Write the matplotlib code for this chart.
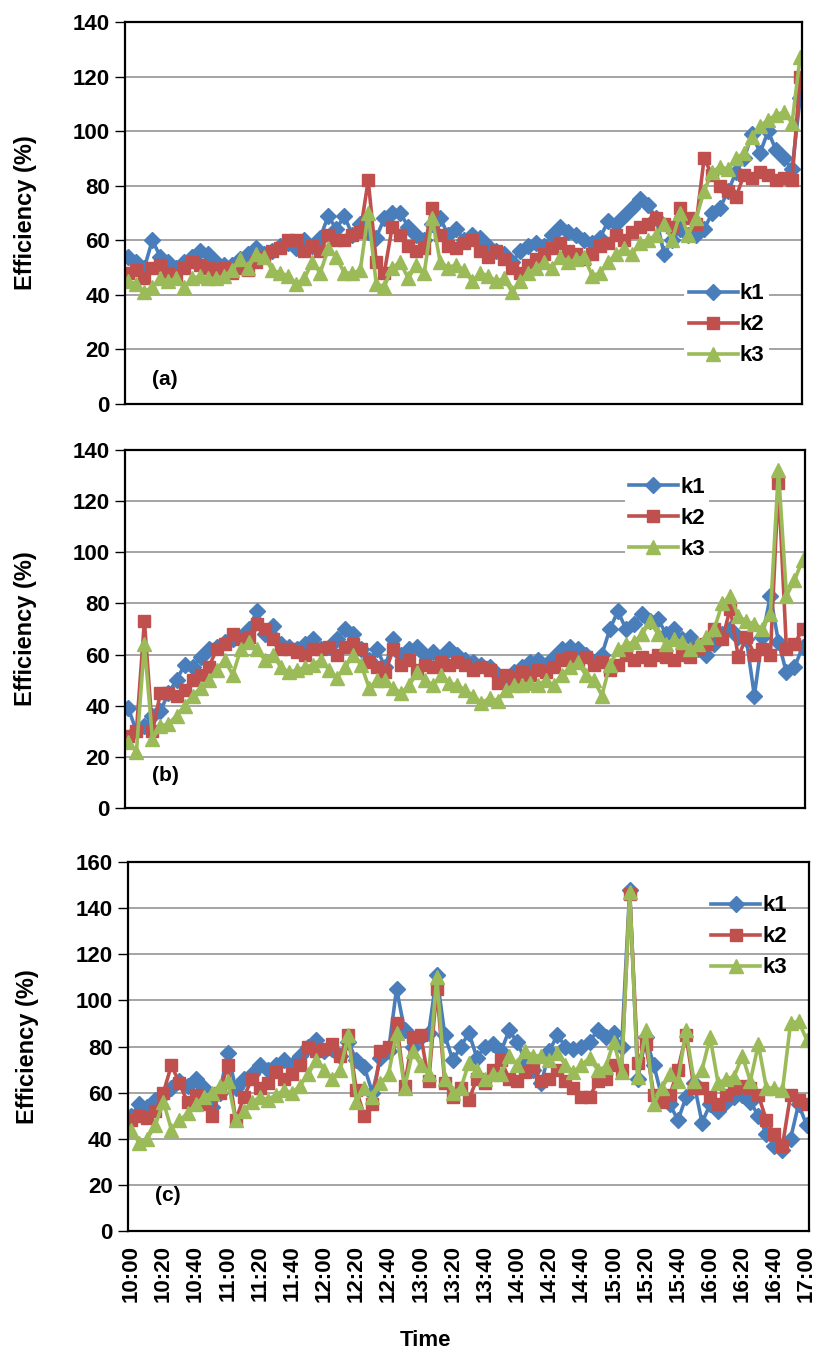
import matplotlib
matplotlib.use('Agg')
import matplotlib.pyplot as plt
import numpy as np

plt.rcParams['font.family'] = ['Liberation Sans', 'DejaVu Sans']
plt.rcParams['font.weight'] = 'bold'

# time axis: 10:00 .. 17:00 every 5 minutes
times = ['%d:%02d' % (10 + m // 60, m % 60) for m in range(0, 421, 5)]
tick_labels = times[::4]

# panel (a)
a_k1 = [54, 52, 50, 60, 54, 52, 50, 52, 54, 56, 55, 52, 51, 51, 53, 55, 57, 55, 56, 58,
        59, 57, 60, 58, 61, 69, 64, 69, 62, 66, 63, 61, 68, 70, 70, 65, 62, 60, 66, 68,
        62, 64, 60, 62, 61, 58, 56, 55, 52, 56, 58, 59, 58, 62, 65, 63, 62, 60, 59, 61,
        67, 66, 69, 72, 75, 73, 68, 55, 60, 64, 62, 62, 64, 70, 72, 78, 85, 90, 99, 92,
        100, 93, 90, 86, 112]
a_k2 = [48, 49, 46, 50, 51, 48, 47, 50, 52, 51, 50, 49, 50, 48, 50, 49, 52, 54, 56, 57,
        60, 60, 56, 58, 56, 62, 60, 60, 62, 63, 82, 52, 48, 65, 62, 58, 56, 57, 72, 62,
        58, 57, 59, 60, 56, 54, 56, 53, 50, 48, 51, 53, 55, 57, 59, 56, 55, 53, 55, 58,
        59, 62, 60, 63, 65, 66, 68, 66, 65, 72, 68, 66, 90, 84, 80, 78, 76, 84, 83, 85,
        84, 82, 83, 82, 120]
a_k3 = [45, 44, 41, 43, 46, 45, 46, 43, 46, 47, 46, 46, 47, 49, 53, 50, 55, 54, 49, 48,
        47, 44, 46, 52, 48, 57, 54, 48, 48, 49, 70, 44, 43, 50, 52, 46, 51, 48, 68, 52,
        50, 51, 49, 45, 48, 47, 45, 46, 41, 45, 48, 50, 52, 50, 54, 52, 53, 54, 47, 48,
        52, 55, 57, 55, 59, 60, 62, 66, 60, 70, 62, 68, 78, 85, 87, 86, 90, 92, 98, 102,
        104, 106, 107, 103, 127]

# panel (b)
b_k1 = [39, 30, 32, 36, 38, 45, 50, 56, 55, 59, 62, 63, 65, 66, 67, 70, 77, 68, 71, 64,
        63, 62, 64, 66, 62, 63, 66, 70, 68, 62, 58, 62, 55, 66, 60, 62, 63, 60, 61, 59,
        62, 60, 58, 57, 56, 55, 52, 50, 53, 55, 57, 58, 56, 59, 62, 63, 62, 60, 57, 60,
        70, 77, 70, 72, 76, 73, 74, 68, 70, 66, 67, 62, 60, 64, 68, 70, 67, 66, 44, 67,
        83, 65, 53, 55, 63]
b_k2 = [28, 30, 73, 30, 45, 45, 44, 46, 50, 52, 55, 62, 64, 68, 66, 67, 72, 70, 66, 62,
        62, 61, 60, 62, 62, 63, 60, 63, 64, 62, 57, 55, 53, 62, 56, 58, 54, 56, 55, 57,
        56, 57, 56, 54, 55, 54, 49, 52, 51, 53, 52, 54, 53, 55, 58, 59, 57, 59, 56, 57,
        54, 56, 60, 58, 59, 58, 60, 59, 58, 60, 59, 62, 64, 70, 66, 78, 59, 67, 60, 62,
        60, 127, 62, 64, 70]
b_k3 = [26, 22, 64, 27, 32, 33, 36, 40, 44, 47, 50, 54, 58, 52, 62, 65, 62, 58, 60, 55,
        53, 54, 55, 56, 58, 54, 51, 55, 60, 56, 47, 50, 50, 47, 45, 48, 53, 50, 48, 52,
        49, 48, 46, 44, 41, 43, 42, 46, 48, 48, 49, 48, 50, 48, 52, 55, 57, 52, 50, 44,
        56, 62, 64, 65, 68, 73, 68, 64, 66, 65, 62, 64, 67, 70, 80, 83, 75, 73, 72, 70,
        76, 132, 83, 89, 97]

# panel (c)
c_k1 = [50, 55, 54, 57, 59, 62, 65, 63, 66, 62, 54, 60, 77, 62, 66, 68, 72, 70, 72, 74,
        72, 76, 80, 83, 78, 79, 76, 82, 74, 71, 60, 75, 78, 105, 87, 80, 84, 86, 111, 85,
        74, 80, 86, 75, 80, 81, 78, 87, 82, 74, 70, 64, 78, 85, 80, 79, 80, 82, 87, 84,
        86, 80, 148, 66, 84, 72, 58, 55, 48, 58, 64, 47, 55, 52, 56, 58, 59, 56, 50, 42,
        37, 35, 40, 55, 46]
c_k2 = [48, 50, 49, 52, 60, 72, 64, 56, 59, 55, 50, 60, 72, 48, 58, 66, 62, 64, 69, 66,
        68, 72, 80, 78, 79, 81, 76, 85, 61, 50, 55, 78, 80, 90, 63, 84, 85, 65, 105, 64,
        58, 62, 57, 66, 64, 70, 74, 66, 65, 69, 71, 65, 66, 70, 65, 62, 58, 58, 65, 66,
        72, 70, 146, 73, 81, 59, 56, 59, 70, 85, 62, 62, 58, 55, 59, 62, 63, 62, 59, 48,
        42, 37, 59, 57, 55]
c_k3 = [44, 38, 40, 46, 56, 44, 48, 51, 55, 58, 60, 63, 65, 48, 52, 56, 58, 57, 59, 61,
        60, 63, 68, 74, 70, 66, 70, 85, 56, 62, 58, 64, 68, 86, 62, 78, 72, 68, 110, 66,
        60, 62, 73, 70, 66, 68, 68, 76, 72, 78, 76, 76, 74, 77, 72, 69, 72, 75, 70, 71,
        82, 69, 147, 67, 87, 55, 62, 68, 65, 87, 65, 70, 84, 64, 66, 67, 76, 65, 81, 62,
        62, 61, 90, 91, 83]

panels = [
    ('(a)', [a_k1, a_k2, a_k3], 140, [0.153, 0.7025, 0.828, 0.2813], (0.888, 0.207), False, (0.04, 0.063)),
    ('(b)', [b_k1, b_k2, b_k3], 140, [0.153, 0.405, 0.831, 0.2636], (0.797, 0.81), False, (0.04, 0.092)),
    ('(c)', [c_k1, c_k2, c_k3], 160, [0.1565, 0.0935, 0.8325, 0.2717], (0.912, 0.797), True, (0.04, 0.095)),
]

colors = ['#4A7EBB', '#C0504D', '#9BBB59']
markers = ['D', 's', '^']
msizes = [8, 9, 10]
names = ['k1', 'k2', 'k3']

fig = plt.figure(figsize=(8.18, 13.58), dpi=100)
x = np.arange(len(times))

for tag, series, ymax, pos, legpos, last, tagpos in panels:
    ax = fig.add_axes(pos)
    for s, c, m, ms, n in zip(series, colors, markers, msizes, names):
        ax.plot(x, s, color=c, marker=m, markersize=ms, linewidth=2.6,
                markeredgecolor=c, label=n)
    ax.set_xlim(-0.4, len(times) - 0.7)
    ax.set_ylim(0, ymax)
    ax.set_yticks(range(0, ymax + 1, 20))
    ax.yaxis.grid(True, color='#8c8c8c', linewidth=1.1)
    ax.set_axisbelow(True)
    for sp in ax.spines.values():
        sp.set_linewidth(1.6)
        sp.set_color('black')
    ax.tick_params(axis='y', direction='out', length=7, width=1, pad=4, labelsize=16)
    ax.tick_params(axis='x', length=0)
    for lab in ax.get_yticklabels():
        lab.set_fontweight('bold')
    ax.set_xticks(x[::4])
    if last:
        ax.set_xticklabels(tick_labels, rotation=90, fontsize=16, fontweight='bold')
        ax.tick_params(axis='x', pad=10)
    else:
        ax.set_xticklabels([])
    ax.set_ylabel('Efficiency (%)', fontsize=17, fontweight='bold')
    ax.yaxis.set_label_coords(-0.13, 0.5)
    ax.text(tagpos[0], tagpos[1], tag, transform=ax.transAxes, fontsize=15,
            fontweight='bold', va='center', ha='left')
    leg = ax.legend(loc='center', bbox_to_anchor=legpos, frameon=not last,
                    fontsize=16, handlelength=2.2, handletextpad=0.1,
                    labelspacing=0.45, borderpad=0.2)
    if not last:
        leg.get_frame().set_facecolor('white')
        leg.get_frame().set_edgecolor('none')
        leg.get_frame().set_alpha(1)
    for t in leg.get_texts():
        t.set_fontweight('bold')

fig.text(0.52, 0.013, 'Time', ha='center', va='center', fontsize=16, fontweight='bold')

fig.savefig('out.png', dpi=100)
